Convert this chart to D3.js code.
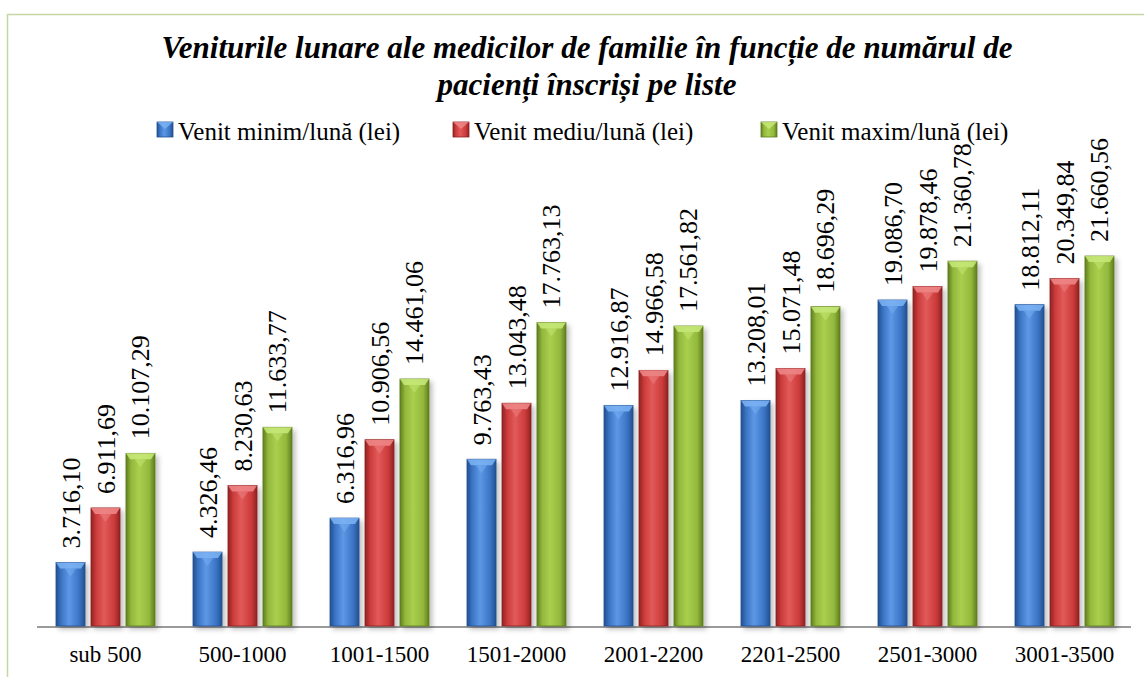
<!DOCTYPE html>
<html>
<head>
<meta charset="utf-8">
<script src="https://cdn.jsdelivr.net/npm/d3@7.9.0/dist/d3.min.js"></script>
<style>
  html, body { margin: 0; padding: 0; background: #fff; }
</style>
</head>
<body>
<div id="chart"></div>
<script>
const categories = ['sub 500', '500-1000', '1001-1500', '1501-2000', '2001-2200', '2201-2500', '2501-3000', '3001-3500'];
const seriesNames = ['Venit minim/lună (lei)', 'Venit mediu/lună (lei)', 'Venit maxim/lună (lei)'];
const venitMinim = [3716.10, 4326.46, 6316.96, 9763.43, 12916.87, 13208.01, 19086.70, 18812.11];
const venitMediu = [6911.69, 8230.63, 10906.56, 13043.48, 14966.58, 15071.48, 19878.46, 20349.84];
const venitMaxim = [10107.29, 11633.77, 14461.06, 17763.13, 17561.82, 18696.29, 21360.78, 21660.56];
const titleLines = ['Veniturile lunare ale medicilor de familie în funcție de numărul de', 'pacienți înscriși pe liste'];

const seriesValues = [venitMinim, venitMediu, venitMaxim];
const colors = [
  { base: '#3a74c4', light: '#5d98e6', dark: '#23508f', top: '#7db4f5' },
  { base: '#cc3b3b', light: '#e25a5a', dark: '#8f2222', top: '#f08a8a' },
  { base: '#93b83c', light: '#a9cf4e', dark: '#5f7d1f', top: '#c8ea7a' }
];

const FONT = '"Liberation Serif"';
const width = 1144, height = 677;
const baseline = 626;

const svg = d3.select('#chart').append('svg')
  .attr('width', width).attr('height', height)
  .style('display', 'block');

const defs = svg.append('defs');
colors.forEach((c, i) => {
  const g = defs.append('linearGradient').attr('id', 'grad' + i)
    .attr('x1', '0').attr('x2', '1').attr('y1', '0').attr('y2', '0');
  g.append('stop').attr('offset', '0%').attr('stop-color', c.dark);
  g.append('stop').attr('offset', '18%').attr('stop-color', c.base);
  g.append('stop').attr('offset', '45%').attr('stop-color', c.light);
  g.append('stop').attr('offset', '80%').attr('stop-color', c.base);
  g.append('stop').attr('offset', '100%').attr('stop-color', c.dark);
});
const shadow = defs.append('filter').attr('id', 'shadow')
  .attr('x', '-30%').attr('y', '-10%').attr('width', '160%').attr('height', '130%');
shadow.append('feDropShadow').attr('dx', 3).attr('dy', 3).attr('stdDeviation', 2.5)
  .attr('flood-color', '#000').attr('flood-opacity', 0.25);

// outer border
svg.append('rect')
  .attr('x', 7.5).attr('y', 14.5).attr('width', width + 10).attr('height', height + 10)
  .attr('fill', 'none').attr('stroke', '#c6d7a3').attr('stroke-width', 1.5);

// title
svg.append('g').selectAll('text')
  .data(titleLines)
  .join('text')
  .attr('x', 587)
  .attr('y', (d, i) => 58 + i * 37)
  .attr('text-anchor', 'middle')
  .style('font-family', FONT)
  .style('font-size', '31px')
  .style('font-weight', 'bold')
  .style('font-style', 'italic')
  .text(d => d);

// legend
const legendX = [157, 453, 761];
const legend = svg.append('g').selectAll('g')
  .data(seriesNames)
  .join('g')
  .attr('transform', (d, i) => `translate(${legendX[i]}, 122)`);
legend.append('rect')
  .attr('width', 16).attr('height', 15)
  .attr('fill', (d, i) => `url(#grad${i})`)
  .attr('stroke', (d, i) => colors[i].dark).attr('stroke-width', 0.8);
legend.append('path')
  .attr('d', 'M0,0 L16,0 L8,7 Z')
  .attr('fill', (d, i) => colors[i].top).attr('opacity', 0.8);
legend.append('text')
  .attr('x', 21).attr('y', 18)
  .style('font-family', FONT)
  .style('font-size', '25px')
  .text(d => d);

const x0 = d3.scaleBand().domain(categories).range([37, 1133]);
const x1 = d3.scaleBand().domain(d3.range(3)).range([19, 118]).paddingInner(0.17);
const y = d3.scaleLinear().domain([0, 25000]).range([baseline, 199]);

const fmt = d3.formatLocale({ decimal: ',', thousands: '.', grouping: [3], currency: ['', ''] }).format(',.2f');

const bars = categories.flatMap((cat, ci) =>
  seriesValues.map((vals, si) => ({ cat, si, value: vals[ci] })));

const bw = x1.bandwidth();

// axis line
svg.append('line')
  .attr('x1', 37).attr('x2', 1131)
  .attr('y1', baseline + 1).attr('y2', baseline + 1)
  .attr('stroke', '#9a9a9a').attr('stroke-width', 2);

const barG = svg.append('g').selectAll('g')
  .data(bars)
  .join('g')
  .attr('transform', d => `translate(${x0(d.cat) + x1(d.si)}, 0)`);

barG.append('rect')
  .attr('x', 0)
  .attr('y', d => y(d.value))
  .attr('width', bw)
  .attr('height', d => baseline - y(d.value))
  .attr('fill', d => `url(#grad${d.si})`)
  .attr('stroke', d => colors[d.si].dark)
  .attr('stroke-width', 0.8)
  .attr('filter', 'url(#shadow)');

barG.append('path')
  .attr('d', d => {
    const t = y(d.value);
    return `M0,${t} L${bw},${t} L${bw - 4},${t + 6} L4,${t + 6} Z`;
  })
  .attr('fill', d => colors[d.si].top)
  .attr('opacity', 0.85);
barG.append('path')
  .attr('d', d => {
    const t = y(d.value);
    return `M${bw * 0.3},${t + 6} L${bw * 0.7},${t + 6} L${bw / 2},${t + 14} Z`;
  })
  .attr('fill', d => colors[d.si].top)
  .attr('opacity', 0.45);

// value labels
barG.append('text')
  .attr('transform', d => `translate(${bw / 2 + 9}, ${y(d.value) - 14}) rotate(-90)`)
  .style('font-family', FONT)
  .style('font-size', '26px')
  .text(d => fmt(d.value));

// x axis labels
const xAxis = d3.axisBottom(x0).tickSize(0).tickPadding(0);
const axisG = svg.append('g')
  .attr('transform', `translate(0, 662)`)
  .call(xAxis);
axisG.select('.domain').remove();
axisG.selectAll('text')
  .style('font-family', FONT)
  .style('font-size', '23px')
  .attr('fill', '#000')
  .attr('dy', '0');
</script>
</body>
</html>
